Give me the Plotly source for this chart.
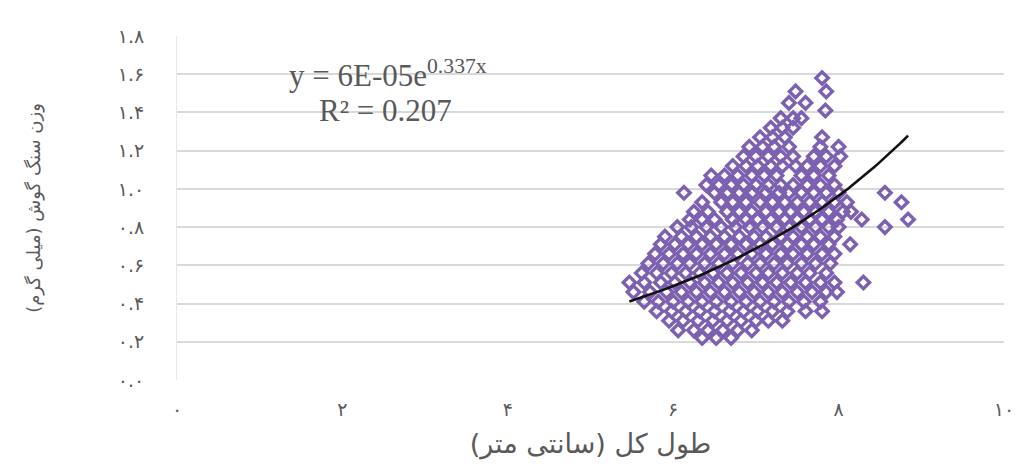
import plotly.graph_objects as go
import numpy as np

# Total length (cm) of each fish, grouped by otolith weight (mg)
weight_rows = [1.58, 1.51, 1.45, 1.41, 1.37, 1.32, 1.27, 1.22, 1.17, 1.12,
               1.07, 1.02, 0.98, 0.93, 0.88, 0.84, 0.80, 0.75, 0.71, 0.66,
               0.61, 0.56, 0.51, 0.46, 0.41, 0.36, 0.31, 0.26, 0.22]
length_rows = [
    [7.80],
    [7.48, 7.85],
    [7.40, 7.60],
    [7.84],
    [7.30, 7.45, 7.55],
    [7.18, 7.32, 7.45],
    [7.05, 7.20, 7.35, 7.80],
    [6.92, 7.08, 7.22, 7.40, 7.78, 8.00],
    [6.85, 7.00, 7.15, 7.30, 7.45, 7.70, 7.85, 8.02],
    [6.72, 6.88, 7.02, 7.18, 7.32, 7.48, 7.62, 7.78, 7.95],
    [6.46, 6.62, 6.78, 6.95, 7.10, 7.25, 7.55, 7.70, 7.88],
    [6.40, 6.55, 6.70, 6.85, 7.00, 7.15, 7.30, 7.45, 7.62, 7.78, 7.95],
    [6.13, 6.50, 6.66, 6.80, 6.96, 7.12, 7.28, 7.40, 7.55, 7.70, 7.85, 8.00, 8.56],
    [6.35, 6.58, 6.72, 6.88, 7.05, 7.20, 7.35, 7.50, 7.65, 7.80, 7.95, 8.10, 8.76],
    [6.25, 6.42, 6.65, 6.80, 6.95, 7.12, 7.28, 7.42, 7.58, 7.72, 7.88, 8.05, 8.15],
    [6.20, 6.35, 6.50, 6.72, 6.88, 7.02, 7.18, 7.35, 7.50, 7.65, 7.80, 7.98, 8.28, 8.84],
    [6.05, 6.22, 6.40, 6.58, 6.75, 6.92, 7.08, 7.25, 7.40, 7.55, 7.72, 7.88, 8.00, 8.56],
    [5.90, 6.10, 6.28, 6.45, 6.62, 6.80, 6.98, 7.12, 7.30, 7.45, 7.62, 7.78, 7.95],
    [5.85, 6.02, 6.18, 6.35, 6.52, 6.70, 6.88, 7.05, 7.20, 7.38, 7.55, 7.70, 7.88, 8.14],
    [5.78, 5.95, 6.12, 6.28, 6.45, 6.62, 6.78, 6.95, 7.12, 7.30, 7.45, 7.62, 7.80, 7.95],
    [5.70, 5.88, 6.05, 6.20, 6.38, 6.55, 6.72, 6.90, 7.05, 7.22, 7.38, 7.55, 7.72, 7.90],
    [5.62, 5.80, 5.98, 6.15, 6.32, 6.48, 6.65, 6.82, 7.00, 7.15, 7.32, 7.50, 7.65, 7.85],
    [5.47, 5.65, 5.85, 6.02, 6.20, 6.38, 6.55, 6.72, 6.90, 7.08, 7.25, 7.42, 7.60, 7.78, 7.95, 8.30],
    [5.52, 5.72, 5.92, 6.10, 6.28, 6.45, 6.62, 6.80, 6.98, 7.15, 7.32, 7.50, 7.68, 7.85, 7.98],
    [5.65, 5.82, 6.00, 6.18, 6.35, 6.52, 6.70, 6.88, 7.05, 7.22, 7.40, 7.58, 7.78],
    [5.80, 5.98, 6.15, 6.32, 6.50, 6.68, 6.85, 7.02, 7.20, 7.38, 7.60, 7.80],
    [5.95, 6.12, 6.30, 6.48, 6.65, 6.82, 7.00, 7.15, 7.32],
    [6.06, 6.25, 6.42, 6.60, 6.78, 6.95],
    [6.35, 6.52, 6.70],
]

# Exponential trendline y = a * exp(b * x), plotted in mg
trend_a = 0.065
trend_b = 0.337
equation_text = "y = 6E-05e<sup>0.337x</sup>"
r2_text = "R² = 0.207"

x_ticks = [0, 2, 4, 6, 8, 10]
x_ticktext = ["۰", "۲", "۴", "۶", "۸", "۱۰"]
y_ticks = [0.0, 0.2, 0.4, 0.6, 0.8, 1.0, 1.2, 1.4, 1.6, 1.8]
y_ticktext = ["۰.۰", "۰.۲", "۰.۴", "۰.۶", "۰.۸", "۱.۰", "۱.۲", "۱.۴", "۱.۶", "۱.۸"]

x_title = "طول کل (سانتی متر)"
y_title = "وزن سنگ گوش (میلی گرم)"

length_cm = [x for row in length_rows for x in row]
weight_mg = [w for w, row in zip(weight_rows, length_rows) for _ in row]

fit_x = np.linspace(min(length_cm), max(length_cm), 100)
fit_y = trend_a * np.exp(trend_b * fit_x)

grey = "#595959"
purple = "#7d60b0"
fig = go.Figure()
fig.add_trace(go.Scatter(
    x=length_cm, y=weight_mg, mode="markers",
    marker=dict(symbol="diamond-open", size=9.5, color=purple,
                line=dict(width=3.4, color=purple)),
    showlegend=False,
))
fig.add_trace(go.Scatter(
    x=fit_x, y=fit_y, mode="lines",
    line=dict(color="#111111", width=2.6),
    showlegend=False,
))

fig.add_annotation(x=2.55, y=1.605, xref="x", yref="y", text=equation_text,
                   showarrow=False, font=dict(family="Liberation Serif", size=31, color=grey))
fig.add_annotation(x=2.52, y=1.41, xref="x", yref="y", text=r2_text,
                   showarrow=False, font=dict(family="Liberation Serif", size=31, color=grey))

fig.update_layout(
    width=1017, height=468,
    margin=dict(l=177, r=13, t=36, b=88),
    paper_bgcolor="white", plot_bgcolor="white",
    font=dict(family="DejaVu Sans", color=grey),
    xaxis=dict(range=[0, 10], tickvals=x_ticks, ticktext=x_ticktext,
               showgrid=False, zeroline=False, showline=False,
               ticks="", ticklabelstandoff=16,
               automargin=False, tickfont=dict(size=19, color=grey),
               title=dict(text=x_title, font=dict(size=27, color=grey))),
    yaxis=dict(range=[0, 1.8], tickvals=y_ticks, ticktext=y_ticktext,
               showgrid=True, gridcolor="#d9d9d9", gridwidth=1.5,
               zeroline=False, showline=True, linecolor="#e6e6e6", linewidth=1,
               ticks="", ticklabelstandoff=28, tickfont=dict(size=19, color=grey),
               title=dict(text=y_title, font=dict(size=18, color=grey), standoff=72)),
)

fig.write_html("out.html")
